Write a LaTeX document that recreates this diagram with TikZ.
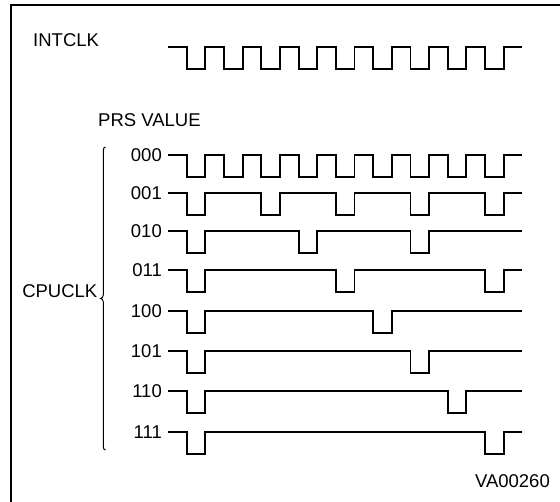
\documentclass[tikz,border=0pt]{standalone}
\usepackage{fontspec}
\setmainfont{Liberation Sans}
\newcommand\wavrow[3]{%
  \draw[wave] (168,#1) foreach \k in {0,...,#3} {
    -- ({186.65+\k*37.3*#2},#1) -- ({186.65+\k*37.3*#2},#1+22)
    -- ({205.3+\k*37.3*#2},#1+22) -- ({205.3+\k*37.3*#2},#1) } -- (522.35,#1);}
\begin{document}
\begin{tikzpicture}[x=1pt,y=-1pt,
  wave/.style={line width=1.9pt},
  lbl/.style={font=\fontsize{18.5}{22}\selectfont, inner sep=0pt}]
\useasboundingbox (0,0) rectangle (560,502);
\clip (0,0) rectangle (560,502);
\fill[white] (0,0) rectangle (560,502);
% frame
\draw[line width=2pt] (11,520) |- (580,5.3);
% labels
\node[lbl, anchor=base west] (intclk) at (33,47) {INTCLK};
\node[lbl, anchor=base west] (prs) at (98,126.5) {PRS VALUE};
\node[lbl, anchor=base east] (cpuclk) at (97.5,298) {CPUCLK};
\node[lbl, anchor=base east] (va) at (550,488) {VA00260};
\node[lbl, anchor=east] (l0) at (162,155) {000};
\node[lbl, anchor=east] (l1) at (162,193) {001};
\node[lbl, anchor=east] (l2) at (162,231) {010};
\node[lbl, anchor=east] (l3) at (162,270) {011};
\node[lbl, anchor=east] (l4) at (162,311) {100};
\node[lbl, anchor=east] (l5) at (162,351) {101};
\node[lbl, anchor=east] (l6) at (162,391) {110};
\node[lbl, anchor=east] (l7) at (162,432) {111};
% waveforms
\wavrow{46.7}{1}{8}
\wavrow{155}{1}{8}
\wavrow{193}{2}{4}
\wavrow{231}{3}{2}
\wavrow{270}{4}{2}
\wavrow{311}{5}{1}
\wavrow{351}{6}{1}
\wavrow{391}{7}{1}
\wavrow{432}{8}{1}
% brace
\draw[line width=1pt] (105.5,147) .. controls (104,147) and (103.3,148.5) .. (103.3,150.5)
  -- (103.3,295) .. controls (103.3,297) and (102,298.5) .. (100.5,298.5)
  .. controls (102,298.5) and (103.3,300) .. (103.3,302)
  -- (103.3,446.5) .. controls (103.3,448.5) and (104,450) .. (105.5,450);
\end{tikzpicture}
\end{document}
